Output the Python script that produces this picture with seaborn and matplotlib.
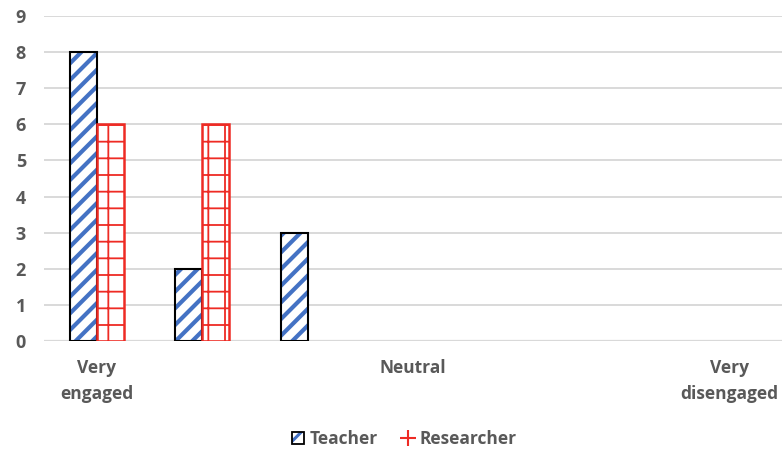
import matplotlib
matplotlib.use("Agg")
import matplotlib.pyplot as plt
import matplotlib.patches as mpatches
from matplotlib.lines import Line2D
from matplotlib.legend_handler import HandlerTuple
import pandas as pd
import seaborn as sns

# Engagement scale (1 = very engaged ... 7 = very disengaged)
scale = [1, 2, 3, 4, 5, 6, 7]
tick_labels = ["Very\nengaged", "", "", "Neutral", "", "", "Very\ndisengaged"]
teacher = [8, 2, 3, 0, 0, 0, 0]
researcher = [6, 6, 0, 0, 0, 0, 0]
series = ["Teacher", "Researcher"]

BLUE = "#4472C4"
RED = "#EE2B24"
TEXT = "#595959"
GRID = "#D9D9D9"
FONT = ["Open Sans", "DejaVu Sans"]

df = pd.DataFrame({
    "scale": scale * 2,
    "rating": teacher + researcher,
    "rater": [series[0]] * len(scale) + [series[1]] * len(scale),
})

sns.set_theme(style="white")
plt.rcParams["font.family"] = FONT
plt.rcParams["font.weight"] = "bold"
plt.rcParams["hatch.linewidth"] = 2.2

fig = plt.figure(figsize=(7.84, 4.5), dpi=100)
ax = fig.add_axes([0.0561, 0.2422, 0.9413, 0.7222])

sns.barplot(data=df, x="scale", y="rating", hue="rater", order=scale,
            hue_order=series, palette=["white", "white"], width=0.51,
            dodge=True, legend=False, ax=ax, zorder=3)

styles = {
    "Teacher": dict(hatch="//", hcolor=BLUE, ecolor="black", elw=1.5, hlw=3.0),
    "Researcher": dict(hatch="+", hcolor=RED, ecolor=RED, elw=1.8, hlw=1.3),
}
for name, cont in zip(series, ax.containers):
    st = styles[name]
    for bar in cont:
        if bar.get_height() == 0:
            bar.set_visible(False)
            continue
        bar.set_facecolor("white")
        bar.set_edgecolor(st["hcolor"])
        bar.set_hatch(st["hatch"])
        bar.set_linewidth(0)
        if hasattr(bar, "set_hatch_linewidth"):
            bar.set_hatch_linewidth(st["hlw"])
        outline = mpatches.Rectangle(bar.get_xy(), bar.get_width(), bar.get_height(),
                                     fill=False, edgecolor=st["ecolor"],
                                     linewidth=st["elw"], zorder=4)
        ax.add_patch(outline)

ax.set_ylim(0, 9)
ax.set_yticks(range(0, 10))
ax.set_xlim(-0.5, len(scale) - 0.5)
ax.set_xticks(range(len(scale)))
ax.set_xticklabels(tick_labels, fontsize=12.5, fontweight="bold", color=TEXT,
                   linespacing=1.6, family=FONT)
ax.set_yticklabels([str(v) for v in range(0, 10)], fontsize=13,
                   fontweight="bold", color=TEXT, family=FONT)
ax.yaxis.grid(True, color=GRID, linewidth=1.4, zorder=0)
ax.set_axisbelow(True)
for s in ax.spines.values():
    s.set_visible(False)
ax.axhline(0, color=GRID, linewidth=1.6, zorder=1)
ax.tick_params(axis="y", length=0, pad=13)
ax.tick_params(axis="x", length=0, pad=13)
ax.set_xlabel("")
ax.set_ylabel("")

# Legend
t_fill = mpatches.Patch(facecolor="white", edgecolor=BLUE, hatch="//", linewidth=0)
t_edge = mpatches.Patch(facecolor="none", edgecolor="black", linewidth=1.3)
r_key = Line2D([], [], color=RED, marker="+", markersize=12, markeredgewidth=1.5,
               linestyle="none")
fig.legend(handles=[(t_fill, t_edge), r_key], labels=series,
           handler_map={tuple: HandlerTuple(ndivide=1, pad=0)},
           loc="lower center", bbox_to_anchor=(0.516, -0.03), ncol=2,
           frameon=False, prop={"size": 12.5, "weight": "bold", "family": FONT},
           labelcolor=TEXT, handlelength=0.7, handleheight=0.7,
           handletextpad=0.3, columnspacing=1.4)

fig.savefig("out.png", dpi=100)
